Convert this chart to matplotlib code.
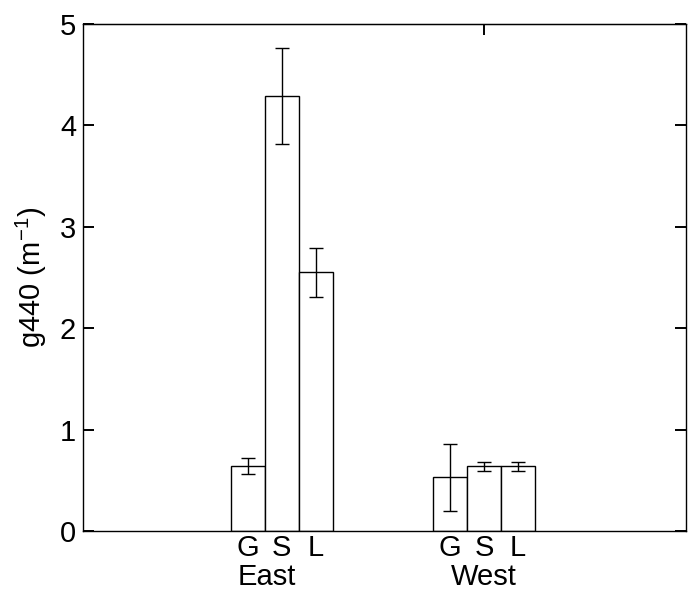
import matplotlib
matplotlib.use('Agg')
import matplotlib.pyplot as plt
import numpy as np

plt.rcParams['font.family'] = ['Liberation Sans', 'DejaVu Sans']

groups = ["East", "West"]
types = ["G", "S", "L"]
means = {"East": [0.64, 4.29, 2.55], "West": [0.53, 0.64, 0.64]}
errs = {"East": [0.08, 0.47, 0.24], "West": [0.33, 0.045, 0.045]}
group_pos = [5.85, 11.8]

fig = plt.figure(figsize=(6.88, 5.9), dpi=100)
ax = fig.add_axes([83 / 688, 59 / 590, 603 / 688, 507 / 590])

bar_x = []
bar_labels = []
for g, c in zip(groups, group_pos):
    xs = c + np.arange(-1, 2)
    ax.bar(xs, means[g], width=1.0, color='white', edgecolor='black',
           linewidth=1.0, zorder=2)
    ax.errorbar(xs, means[g], yerr=errs[g], fmt='none', ecolor='black',
                elinewidth=1.0, capsize=4.7, capthick=1.0, zorder=3)
    bar_x.extend(xs)
    bar_labels.extend(types)

ax.set_xlim(0, 17.74)
ax.set_ylim(0, 5)
ax.set_yticks(np.arange(0, 6, 1))
ax.set_xticks(bar_x)
ax.set_xticklabels(bar_labels)
ax.tick_params(axis='x', length=0, pad=2, labelsize=21)
ax.tick_params(axis='y', direction='in', length=8, width=1.4, right=True,
               labelsize=21, pad=5)
for s in ax.spines.values():
    s.set_linewidth(1.0)

# group names below the bar letters
sec = ax.secondary_xaxis('bottom')
sec.set_xticks([group_pos[0] - 0.45, group_pos[1]])
sec.set_xticklabels(groups)
sec.tick_params(length=0, pad=23, labelsize=21)
sec.spines['bottom'].set_visible(False)

# lone tick on top
top = ax.secondary_xaxis('top')
top.set_xticks([group_pos[1]])
top.set_xticklabels([])
top.tick_params(direction='in', length=8, width=1.4)

ax.set_ylabel("g440 (m$^{\\mathregular{-1}}$)", fontsize=21, labelpad=8)

plt.savefig("out.png", dpi=100)
